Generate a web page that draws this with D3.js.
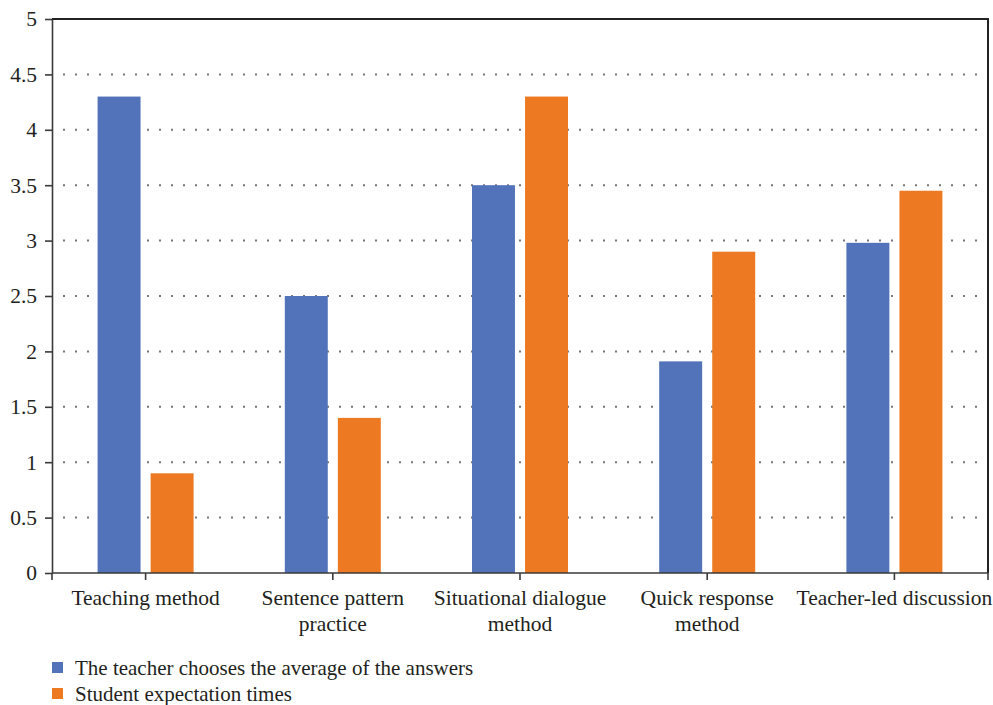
<!DOCTYPE html>
<html lang="en">
	<head>
		<meta charset="utf-8">
		<title>Teaching methods</title>
		<script src="https://d3js.org/d3.v7.min.js"></script>
		<style type="text/css">
			body { margin: 0; background: #fff; }
			text {
				font-family: "Liberation Serif", "DejaVu Serif", serif;
				fill: #231f20;
			}
			.axis path, .axis line {
				fill: none;
				stroke: #3a3a3a;
				stroke-width: 1.6;
			}
			.axis text { font-size: 21.5px; }
			.grid line {
				stroke: #777;
				stroke-width: 2;
				stroke-dasharray: 2 10;
			}
		</style>
	</head>
	<body>
		<script type="text/javascript">
			//Width and height
			var w = 993;
			var h = 705;
			var margin = {top: 19, right: 5, bottom: 132, left: 52};

			//Data
			var categories = ["Teaching method", "Sentence pattern practice", "Situational dialogue method", "Quick response method", "Teacher-led discussion"];
			var categoryLines = [["Teaching method"], ["Sentence pattern", "practice"], ["Situational dialogue", "method"], ["Quick response", "method"], ["Teacher-led discussion"]];
			var seriesNames = ["The teacher chooses the average of the answers", "Student expectation times"];
			var teacherAvg = [4.3, 2.5, 3.5, 1.91, 2.98];
			var studentExp = [0.9, 1.4, 4.3, 2.9, 3.45];
			var yTicks = [0, 0.5, 1, 1.5, 2, 2.5, 3, 3.5, 4, 4.5, 5];
			var colors = ["#5273ba", "#ed7a23"];

			var x0 = margin.left, x1 = w - margin.right;
			var y0 = h - margin.bottom, y1 = margin.top;

			//Scales
			var xScale = d3.scaleBand()
				.domain(categories)
				.range([x0, x1]);
			var xSub = d3.scaleBand()
				.domain([0, 1])
				.range([xScale.bandwidth() / 2 - 48, xScale.bandwidth() / 2 + 48])
				.paddingInner(0.19);
			var yScale = d3.scaleLinear()
				.domain([0, 5])
				.range([y0, y1]);

			var svg = d3.select("body")
				.append("svg")
				.attr("width", w)
				.attr("height", h);

			//Dotted gridlines
			svg.append("g")
				.attr("class", "grid")
				.selectAll("line")
				.data(yTicks.filter(function(d) { return d > 0 && d < 5; }))
				.enter()
				.append("line")
				.attr("x1", x0 + 11)
				.attr("x2", x1)
				.attr("y1", function(d) { return yScale(d); })
				.attr("y2", function(d) { return yScale(d); });

			//Frame top/right
			svg.append("path")
				.attr("d", "M" + x0 + "," + y1 + "H" + x1 + "V" + y0)
				.attr("fill", "none")
				.attr("stroke", "#222")
				.attr("stroke-width", 2);

			//Bars
			var groups = svg.append("g")
				.selectAll("g")
				.data(categories)
				.enter()
				.append("g")
				.attr("transform", function(d) { return "translate(" + xScale(d) + ",0)"; });

			groups.selectAll("rect")
				.data(function(d, i) { return [teacherAvg[i], studentExp[i]]; })
				.enter()
				.append("rect")
				.attr("x", function(d, j) { return xSub(j); })
				.attr("width", xSub.bandwidth())
				.attr("y", function(d) { return yScale(d); })
				.attr("height", function(d) { return y0 - yScale(d); })
				.attr("fill", function(d, j) { return colors[j]; });

			//Y axis
			var yAxis = d3.axisLeft(yScale)
				.tickValues(yTicks)
				.tickFormat(d3.format("~g"))
				.tickSize(7)
				.tickPadding(8)
				.tickSizeOuter(0);
			svg.append("g")
				.attr("class", "axis")
				.attr("transform", "translate(" + x0 + ",0)")
				.call(yAxis);

			//X axis: ticks at band centres plus both ends
			var xTickPos = [x0].concat(categories.map(function(d) { return xScale(d) + xScale.bandwidth() / 2; })).concat([x1]);
			var xg = svg.append("g")
				.attr("class", "axis");
			xg.append("line")
				.attr("x1", x0).attr("x2", x1)
				.attr("y1", y0).attr("y2", y0);
			xg.selectAll(".tick")
				.data(xTickPos)
				.enter()
				.append("line")
				.attr("x1", function(d) { return d; })
				.attr("x2", function(d) { return d; })
				.attr("y1", y0)
				.attr("y2", y0 + 7);

			var labels = xg.selectAll(".lbl")
				.data(categories)
				.enter()
				.append("text")
				.attr("text-anchor", "middle")
				.attr("x", function(d) { return xScale(d) + xScale.bandwidth() / 2; })
				.attr("y", y0 + 32);
			labels.selectAll("tspan")
				.data(function(d, i) { return categoryLines[i]; })
				.enter()
				.append("tspan")
				.attr("x", function() { return d3.select(this.parentNode).attr("x"); })
				.attr("dy", function(d, i) { return i === 0 ? 0 : 26; })
				.text(function(d) { return d; });

			//Legend
			var legend = svg.append("g")
				.selectAll("g")
				.data(seriesNames)
				.enter()
				.append("g")
				.attr("transform", function(d, i) { return "translate(52," + (662 + i * 26) + ")"; });
			legend.append("rect")
				.attr("width", 11)
				.attr("height", 11)
				.attr("fill", function(d, i) { return colors[i]; });
			legend.append("text")
				.attr("x", 23)
				.attr("y", 13)
				.style("font-size", "21px")
				.text(function(d) { return d; });
		</script>
	</body>
</html>
